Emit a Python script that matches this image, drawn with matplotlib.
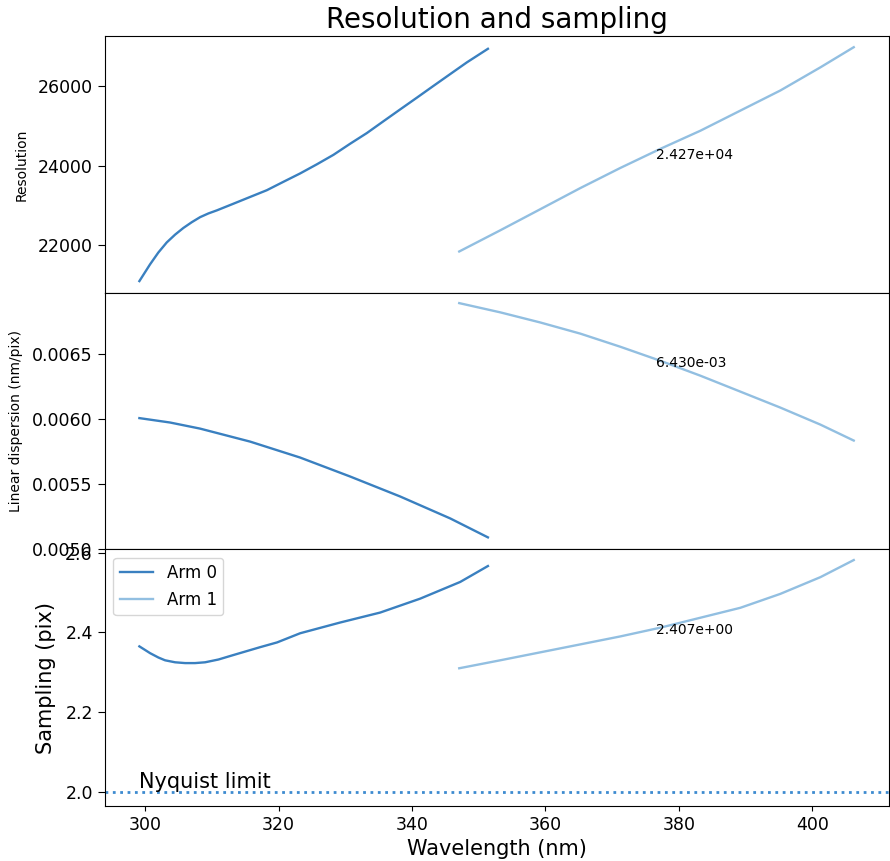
import matplotlib
matplotlib.use("Agg")
import matplotlib.pyplot as plt

# ---- data ----
arm0_wl = [299.15, 300.75, 301.99, 303.25, 304.5, 305.74, 307.0, 308.25, 309.5, 310.75, 313.24,
           315.74, 318.25, 320.73, 323.24, 325.74, 328.23, 330.73, 333.24, 335.73, 338.23,
           340.73, 343.22, 345.73, 348.23, 351.38]
arm0_res = [21103, 21525, 21822, 22076, 22272, 22440, 22585, 22712, 22806, 22882, 23050,
            23220, 23390, 23601, 23812, 24041, 24280, 24559, 24828, 25126, 25423,
            25718, 26015, 26312, 26607, 26948]

arm0_disp_wl = [299.15, 303.75, 308.25, 315.74, 323.24, 330.73, 338.23, 345.73, 351.38]
arm0_disp = [0.006009, 0.005975, 0.005928, 0.005828, 0.005705, 0.005559, 0.005405, 0.005236, 0.005090]

arm0_samp_wl = [299.15, 300.0, 300.75, 302.0, 303.0, 304.5, 306.0, 307.5, 309.0, 311.0, 313.19,
                317.24, 319.79, 323.24, 329.24, 335.23, 341.23, 347.23, 351.38]
arm0_samp = [2.365, 2.356, 2.348, 2.337, 2.330, 2.325, 2.323, 2.323, 2.325, 2.332, 2.343,
             2.363, 2.375, 2.398, 2.425, 2.450, 2.485, 2.527, 2.567]

arm1_wl = [347.08, 353.22, 359.22, 365.22, 371.21, 377.21, 383.21, 389.21, 395.20, 401.20, 406.2]
arm1_res = [21848, 22380, 22911, 23443, 23949, 24430, 24886, 25393, 25899, 26481, 26988]
arm1_disp = [0.006895, 0.006824, 0.006746, 0.006660, 0.006559, 0.006451, 0.006336,
             0.006213, 0.006090, 0.005959, 0.005836]
arm1_samp = [2.310, 2.330, 2.350, 2.370, 2.390, 2.412, 2.437, 2.462, 2.497, 2.539, 2.582]

mean_values = [2.427e+04, 6.430e-03, 2.407e+00]
nyquist = 2.0

labels = ["Arm 0", "Arm 1"]
ylabels = ["Resolution", "Linear dispersion (nm/pix)", "Sampling (pix)"]
res_ticks = [22000, 24000, 26000]
disp_ticks = [0.0050, 0.0055, 0.0060, 0.0065]
samp_ticks = [2.0, 2.2, 2.4, 2.6]
x_ticks = [300, 320, 340, 360, 380, 400]

c0 = "#3a80c0"
c1 = "#92bfe1"

fig, axes = plt.subplots(3, 1, figsize=(8.9, 8.61), dpi=100, sharex=True)
fig.subplots_adjust(left=0.118, right=0.999, top=0.958, bottom=0.064, hspace=0)

series = [
    (arm0_wl, arm0_res, arm1_res),
    (arm0_disp_wl, arm0_disp, arm1_disp),
    (arm0_samp_wl, arm0_samp, arm1_samp),
]
yt = [res_ticks, disp_ticks, samp_ticks]
ylab_size = [10, 10, 15]

for i, ax in enumerate(axes):
    w0, v0, v1 = series[i]
    ax.plot(w0, v0, color=c0, lw=1.7, label=labels[0])
    ax.plot(arm1_wl, v1, color=c1, lw=1.7, label=labels[1])
    xm = (arm1_wl[0] + arm1_wl[-1]) / 2
    ax.text(xm, mean_values[i], "%.3e" % mean_values[i], ha="left", va="center", fontsize=10)
    ax.set_yticks(yt[i])
    ax.set_ylabel(ylabels[i], fontsize=ylab_size[i], labelpad=6.5)
    ax.tick_params(axis="y", labelsize=12.5, length=5, pad=3.8)
    ax.tick_params(axis="x", labelsize=12.5)

axes[2].axhline(nyquist, color="#3d8bd0", ls=":", lw=2)
axes[2].text(arm0_wl[0], nyquist, "Nyquist limit", fontsize=15, va="bottom", ha="left")
axes[2].legend(loc="upper left", fontsize=12)
axes[2].set_xticks(x_ticks)
axes[2].set_xlabel("Wavelength (nm)", fontsize=15)

axes[0].set_ylim(20810, 27266)
axes[1].set_ylim(0.004998, 0.006975)
axes[2].set_ylim(1.964, 2.609)
axes[2].set_xlim(294.0, 411.5)

for ax in axes[:2]:
    ax.tick_params(axis="x", bottom=False)

axes[0].set_title("Resolution and sampling", fontsize=20)

fig.savefig("out.png", dpi=100)
